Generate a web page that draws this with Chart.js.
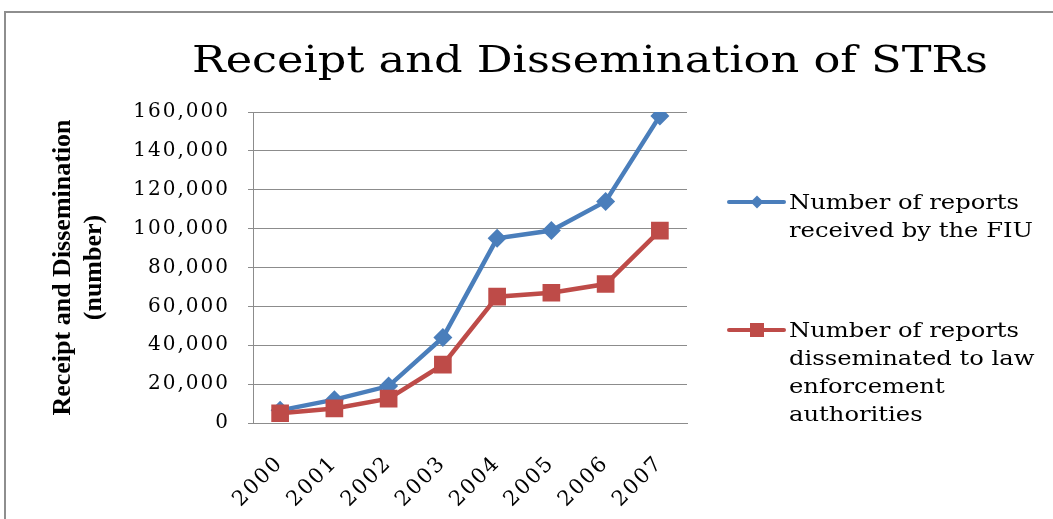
<!DOCTYPE html>
<html>
<head>
<meta charset="utf-8">
<script src="https://cdn.jsdelivr.net/npm/chart.js@4.4.1/dist/chart.umd.min.js"></script>
<style>
  html, body { margin: 0; padding: 0; background: #fff; overflow: hidden; }
  #wrap { position: absolute; left: 0; top: 0; width: 1053px; height: 519px; }
  #frame { position: absolute; left: 4px; top: 11px; width: 1100px; height: 600px;
           border: 2px solid #8e8e8e; pointer-events: none; }
</style>
</head>
<body>
<div id="wrap"><canvas id="chart" width="1053" height="519"></canvas></div>
<div id="frame"></div>
<script>
const YEARS = ['2000', '2001', '2002', '2003', '2004', '2005', '2006', '2007'];
const RECEIVED = [6500, 12000, 19000, 44000, 95000, 99000, 114000, 158000];
const DISSEMINATED = [5000, 7500, 12500, 30000, 65000, 67000, 71500, 99000];
const Y_MAX = 160000;
const Y_STEP = 20000;

const TITLE = 'Receipt and Dissemination of STRs';
const Y_TITLE = ['Receipt and Dissemination', '(number)'];
const LEGEND = [
    { lines: ['Number of reports', 'received by the FIU'], style: 'diamond' },
    { lines: ['Number of reports', 'disseminated to law', 'enforcement', 'authorities'], style: 'square' },
];

const BLUE = '#4a7ebb';
const RED = '#be4b48';
const SERIF = "'DejaVu Serif', serif";

// draw text stretched horizontally so it spans `width` px
function wideText(ctx, text, x, y, width, align) {
    const w = ctx.measureText(text).width;
    const sx = width / w;
    ctx.save();
    ctx.translate(x, y);
    ctx.scale(sx, 1);
    ctx.textAlign = align;
    ctx.fillText(text, 0, 0);
    ctx.restore();
    return sx;
}

// the tick font in the original is much wider than DejaVu, so space it out
const spacing = {
    id: 'spacing',
    beforeUpdate(chart) { chart.ctx.letterSpacing = '2px'; },
    beforeDraw(chart) { chart.ctx.letterSpacing = '2px'; },
};

// title, axis title and the wrapped legend, drawn by hand
const decorations = {
    id: 'decorations',
    afterDraw(chart) {
        const { ctx, chartArea } = chart;
        ctx.save();
        ctx.letterSpacing = '0px';
        ctx.fillStyle = '#000';
        ctx.textBaseline = 'alphabetic';

        ctx.font = '38px ' + SERIF;
        wideText(ctx, TITLE, 590, 72, 796, 'center');

        ctx.save();
        ctx.font = "bold 26px 'Liberation Serif', serif";
        ctx.textBaseline = 'middle';
        ctx.textAlign = 'center';
        ctx.translate(0, (chartArea.top + chartArea.bottom) / 2);
        ctx.rotate(-Math.PI / 2);
        ctx.fillText(Y_TITLE[0], 0, 63);
        ctx.fillText(Y_TITLE[1], 0, 94);
        ctx.restore();

        const x0 = chartArea.right + 42;
        const ys = [chartArea.top + 90, chartArea.top + 218];
        const colors = chart.data.datasets.map(d => d.borderColor);
        ctx.font = '20px ' + SERIF;
        const sx = 230 / ctx.measureText(LEGEND[0].lines[0]).width;
        LEGEND.forEach((item, i) => {
            const y = ys[i];
            ctx.strokeStyle = colors[i];
            ctx.fillStyle = colors[i];
            ctx.lineWidth = 4;
            ctx.lineCap = 'round';
            ctx.beginPath();
            ctx.moveTo(x0, y);
            ctx.lineTo(x0 + 55, y);
            ctx.stroke();
            const cx = x0 + 28;
            ctx.beginPath();
            if (item.style === 'diamond') {
                ctx.moveTo(cx, y - 6.5); ctx.lineTo(cx + 6.5, y); ctx.lineTo(cx, y + 6.5); ctx.lineTo(cx - 6.5, y);
                ctx.closePath();
            } else {
                ctx.rect(cx - 7, y - 7, 14, 14);
            }
            ctx.fill();
            ctx.fillStyle = '#000';
            item.lines.forEach((t, j) => {
                ctx.save();
                ctx.translate(x0 + 60, y + 7 + j * 28);
                ctx.scale(sx, 1);
                ctx.textAlign = 'left';
                ctx.fillText(t, 0, 0);
                ctx.restore();
            });
        });
        ctx.restore();
    }
};

new Chart(document.getElementById('chart'), {
    type: 'line',
    data: {
        labels: YEARS,
        datasets: [
            {
                label: 'Number of reports received by the FIU',
                data: RECEIVED,
                borderColor: BLUE, backgroundColor: BLUE,
                borderWidth: 4.5,
                pointStyle: 'rectRot', pointRadius: 9.5,
                pointBorderWidth: 0,
                order: 1,
            },
            {
                label: 'Number of reports disseminated to law enforcement authorities',
                data: DISSEMINATED,
                borderColor: RED, backgroundColor: RED,
                borderWidth: 4.5,
                pointStyle: 'rect', pointRadius: 12.5,
                pointBorderWidth: 0,
                order: 0,
            },
        ]
    },
    options: {
        responsive: false,
        animation: false,
        devicePixelRatio: 1,
        layout: { padding: { left: 0, right: 366, top: 112, bottom: 0 } },
        scales: {
            x: {
                offset: true,
                grid: { display: false },
                border: { color: '#8c8c8c', width: 1 },
                ticks: {
                    color: '#000',
                    font: { family: SERIF, size: 21 },
                    minRotation: 45, maxRotation: 45,
                    padding: 20,
                },
                afterFit(scale) { scale.height = 96; },
            },
            y: {
                min: 0, max: Y_MAX,
                grid: { color: '#8c8c8c', tickLength: 5, lineWidth: 1 },
                border: { color: '#8c8c8c', width: 1 },
                ticks: {
                    stepSize: Y_STEP,
                    color: '#000',
                    padding: 18,
                    font: { family: SERIF, size: 20 },
                    callback: v => v.toLocaleString('en-US'),
                },
                afterFit(scale) { scale.width = 253; },
            }
        },
        plugins: {
            legend: { display: false },
            tooltip: { enabled: false },
            title: { display: false },
        }
    },
    plugins: [spacing, decorations]
});
</script>
</body>
</html>
